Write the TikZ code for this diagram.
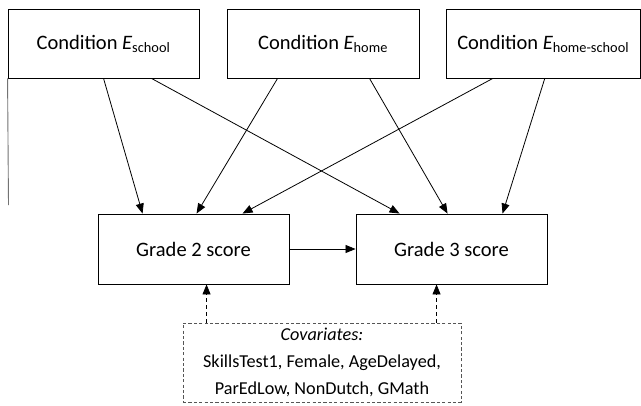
\documentclass[tikz,border=0pt]{standalone}
\usepackage{fontspec}
\setmainfont{Carlito}
\usetikzlibrary{arrows.meta}
\definecolor{edgegray}{HTML}{555555}
\tikzset{
  box/.style={draw=black, line width=0.9pt, inner sep=0pt, minimum height=69pt,
    font=\fontsize{20.5}{24}\selectfont, align=center},
  covbox/.style={draw=edgegray, dash pattern=on 3.2pt off 2.2pt, line width=0.9pt, inner sep=0pt,
    minimum width=278pt, minimum height=79pt, font=\fontsize{18.2}{27}\selectfont, align=center},
  arr/.style={line width=0.8pt, -{Triangle[length=10pt,width=8pt]}},
  darr/.style={arr, dash pattern=on 4pt off 3pt}
}
\newcommand{\Esub}[1]{{\itshape E}\textsubscript{#1}}
\begin{document}
\begin{tikzpicture}[x=1pt,y=-1pt]
\useasboundingbox (0,0) rectangle (641,405);
\fill[white] (0,0) rectangle (641,405);
\node[box, minimum width=191pt] (s1) at (103.5,43.5) {Condition \Esub{school}};
\node[box, minimum width=192pt] (s2) at (323,43.5) {Condition \Esub{home}};
\node[box, minimum width=194pt] (s3) at (543.2,43.5) {Condition \Esub{home-school}};
\node[box, minimum width=191pt, minimum height=70pt] (g2) at (193.5,249) {Grade 2 score};
\node[box, minimum width=191pt, minimum height=70pt] (g3) at (451.5,249) {Grade 3 score};
\node[covbox] (cov) at (322,362.5) {\textit{Covariates:}\\SkillsTest1, Female, AgeDelayed,\\ParEdLow, NonDutch, GMath};
\coordinate (lineend) at (8.5,205);
\draw[color=gray!90!black, line width=0.9pt] (s1.south west) -- (lineend);
% arrows
\draw[arr] ([xshift=96pt]s1.south west) -- ([xshift=45pt]g2.north west);
\draw[arr] ([xshift=144pt]s1.south west) -- ([xshift=44pt]g3.north west);
\draw[arr] ([xshift=51pt]s2.south west) -- ([xshift=99pt]g2.north west);
\draw[arr] ([xshift=143pt]s2.south west) -- ([xshift=92pt]g3.north west);
\draw[arr] ([xshift=47pt]s3.south west) -- ([xshift=145pt]g2.north west);
\draw[arr] ([xshift=99pt]s3.south west) -- ([xshift=147pt]g3.north west);
\draw[arr] (g2.east) -- (g3.west);
\draw[darr] ([xshift=24pt]cov.north west) -- ([xshift=109pt]g2.south west);
\draw[darr] ([xshift=254pt]cov.north west) -- ([xshift=81pt]g3.south west);
\end{tikzpicture}
\end{document}
